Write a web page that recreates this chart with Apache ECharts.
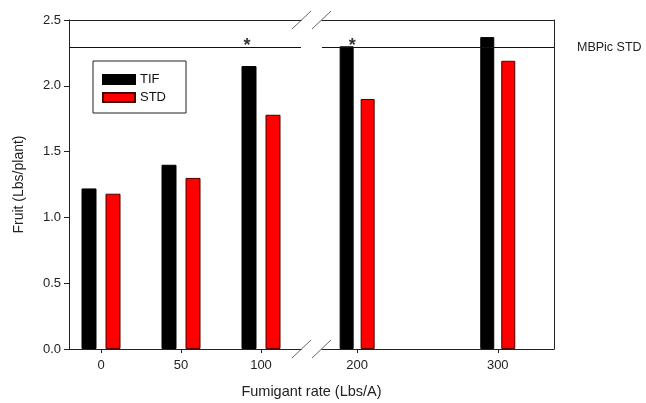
<!DOCTYPE html>
<html>
<head>
<meta charset="utf-8">
<script src="https://cdn.jsdelivr.net/npm/echarts@6/dist/echarts.min.js"></script>
<style>
html,body{margin:0;padding:0;background:#fff;}
#chart{width:646px;height:403px;}
</style>
</head>
<body>
<div id="chart"></div>
<script>
// ---- data ----
const rates = [0, 50, 100, 200, 300];
const tif = [1.22, 1.40, 2.15, 2.30, 2.37];
const std = [1.18, 1.30, 1.78, 1.90, 2.19];
const yTicks = [0, 0.5, 1.0, 1.5, 2.0, 2.5];
const leftTicks = [0, 50, 100];
const rightTicks = [200, 300];
const refValue = 2.29;
const refLabel = 'MBPic STD';
const sigRates = [100, 200];
const seriesNames = ['TIF', 'STD'];

// ---- layout ----
const FONT = '"Liberation Sans", Arial, sans-serif';
const G1 = {left: 69, top: 20, width: 232, height: 329};
const G2 = {left: 322, top: 20, width: 232, height: 329};
const X1 = {min: -20, max: 125};
const X2 = {min: 175, max: 340};

const isLeft = r => r < 150;
function pairs(vals, pred) {
  return rates.map((r, i) => [r, vals[i]]).filter(p => pred(p[0]));
}
const axisLineStyle = {color: '#222', width: 1};

function bottomX(gridIndex, range, ticks) {
  return {
    type: 'value', gridIndex, position: 'bottom', min: range.min, max: range.max,
    axisLine: {show: true, onZero: false, lineStyle: axisLineStyle},
    axisTick: {show: true, inside: false, length: 4, customValues: ticks, lineStyle: axisLineStyle},
    axisLabel: {show: true, customValues: ticks, margin: 10, color: '#222', fontSize: 13, fontFamily: FONT},
    splitLine: {show: false}
  };
}
function topX(gridIndex, range) {
  return {
    type: 'value', gridIndex, position: 'top', min: range.min, max: range.max,
    axisLine: {show: true, onZero: false, lineStyle: axisLineStyle},
    axisTick: {show: false}, axisLabel: {show: false}, splitLine: {show: false}
  };
}

function barSeries(name, vals, xIdx, yIdx, pred, width, gap, style, withRef, showRefLabel) {
  const s = {
    type: 'bar', name, xAxisIndex: xIdx, yAxisIndex: yIdx,
    data: pairs(vals, pred), barWidth: width, barGap: gap,
    itemStyle: style, silent: true
  };
  if (withRef) {
    s.markLine = {
      silent: true, symbol: ['none', 'none'],
      lineStyle: {color: '#111', width: 1, type: 'solid'},
      label: showRefLabel ? {show: true, position: 'end', formatter: refLabel, distance: 23,
        color: '#222', fontSize: 12.5, fontFamily: FONT} : {show: false},
      data: [{yAxis: refValue}]
    };
  }
  return s;
}

const tifStyle = {color: '#000', borderColor: '#000', borderWidth: 1};
const stdStyle = {color: '#ff0000', borderColor: '#4a0000', borderWidth: 1};

const starOffsets = {100: [-14, -2], 200: [-5, -2]};
function starSeries(xIdx, yIdx, pred) {
  return {
    type: 'scatter', xAxisIndex: xIdx, yAxisIndex: yIdx, symbol: 'circle', symbolSize: 1,
    itemStyle: {color: 'rgba(0,0,0,0)'}, silent: true, z: 5,
    data: sigRates.filter(pred).map(r => ({
      value: [r, refValue],
      label: {offset: starOffsets[r]}
    })),
    label: {show: true, formatter: '*', position: 'inside', color: '#000',
      fontSize: 18, fontWeight: 'bold', fontFamily: FONT, verticalAlign: 'middle', align: 'center'}
  };
}

const gap = 9;
const slash = (x1, y1, x2, y2) => ({
  type: 'line', silent: true,
  shape: {x1, y1, x2, y2},
  style: {stroke: '#666', lineWidth: 1}
});
const g1r = G1.left + G1.width, g2l = G2.left, topY = G1.top, botY = G1.top + G1.height;

const option = {
  animation: false,
  backgroundColor: '#fff',
  textStyle: {fontFamily: FONT},
  grid: [
    {left: G1.left, top: G1.top, width: G1.width, height: G1.height, containLabel: false},
    {left: G2.left, top: G2.top, width: G2.width, height: G2.height, containLabel: false}
  ],
  xAxis: [bottomX(0, X1, leftTicks), topX(0, X1), bottomX(1, X2, rightTicks), topX(1, X2)],
  yAxis: [
    {
      type: 'value', gridIndex: 0, position: 'left', min: 0, max: 2.5, interval: 0.5,
      name: 'Fruit (Lbs/plant)', nameLocation: 'middle', nameGap: 43, nameRotate: 90,
      nameTextStyle: {color: '#222', fontSize: 14, fontFamily: FONT},
      axisLine: {show: true, onZero: false, lineStyle: axisLineStyle},
      axisTick: {show: true, inside: false, length: 5, lineStyle: axisLineStyle},
      axisLabel: {show: true, margin: 8, color: '#222', fontSize: 13, fontFamily: FONT,
        formatter: v => v.toFixed(1)},
      splitLine: {show: false}
    },
    {
      type: 'value', gridIndex: 1, position: 'right', min: 0, max: 2.5, interval: 0.5,
      axisLine: {show: true, onZero: false, lineStyle: axisLineStyle},
      axisTick: {show: false}, axisLabel: {show: false}, splitLine: {show: false}
    }
  ],
  legend: {
    data: seriesNames, orient: 'vertical', left: 93, top: 61,
    itemWidth: 32, itemHeight: 9, itemGap: 5, padding: [12, 20, 9, 9],
    borderColor: '#222', borderWidth: 1, icon: 'rect',
    textStyle: {color: '#111', fontSize: 13, fontFamily: FONT},
    selectedMode: false
  },
  series: [
    barSeries('TIF', tif, 0, 0, isLeft, 15, '60%', tifStyle, true, false),
    barSeries('STD', std, 0, 0, isLeft, 15, '60%', stdStyle, false, false),
    barSeries('TIF', tif, 2, 1, r => !isLeft(r), 14, '50%', tifStyle, true, true),
    barSeries('STD', std, 2, 1, r => !isLeft(r), 14, '50%', stdStyle, false, false),
    starSeries(0, 0, isLeft),
    starSeries(2, 1, r => !isLeft(r))
  ],
  graphic: [
    slash(g1r - gap, topY + gap, g1r + gap + 1, topY - gap),
    slash(g2l - gap - 1, topY + gap, g2l + gap, topY - gap),
    slash(g1r - gap, botY + gap, g1r + gap + 1, botY - gap),
    slash(g2l - gap - 1, botY + gap, g2l + gap, botY - gap),
    {
      type: 'text', silent: true, x: (G1.left + G2.left + G2.width) / 2, y: 392,
      style: {text: 'Fumigant rate (Lbs/A)', fill: '#222', font: '14.5px ' + FONT,
        align: 'center', verticalAlign: 'middle'}
    }
  ]
};

const chart = echarts.init(document.getElementById('chart'), null, {renderer: 'canvas'});
chart.setOption(option);
</script>
</body>
</html>
